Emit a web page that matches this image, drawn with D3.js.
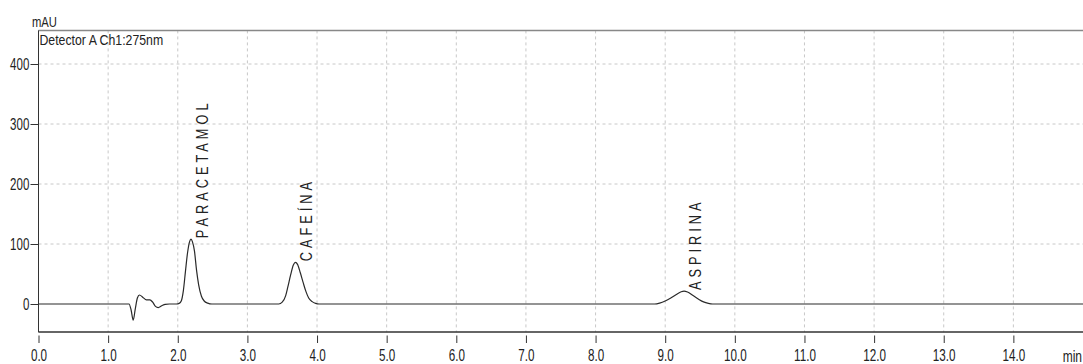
<!DOCTYPE html>
<html>
<head>
<meta charset="utf-8">
<script src="https://cdn.jsdelivr.net/npm/d3@7"></script>
<style>
  body { margin: 0; background: #fff; }
  svg text { font-family: "Liberation Sans", Arial, sans-serif; fill: #222; }
</style>
</head>
<body>
<svg id="chrom" width="1083" height="364"></svg>
<script>
// retention time (min) and detector signal (mAU)
var times = [0, 1.30, 1.33, 1.36, 1.39, 1.42, 1.45, 1.50, 1.55, 1.60, 1.64, 1.68, 1.72, 1.77, 1.82, 1.88,
  1.98, 2.02, 2.05, 2.08, 2.11, 2.14, 2.17, 2.19, 2.21, 2.24, 2.27, 2.30, 2.34, 2.38, 2.43, 2.49,
  3.45, 3.50, 3.55, 3.58, 3.62, 3.66, 3.69, 3.72, 3.76, 3.80, 3.84, 3.88, 3.93, 3.98, 4.03,
  8.85, 8.92, 9.00, 9.08, 9.16, 9.23, 9.27, 9.32, 9.40, 9.48, 9.55, 9.62, 9.68, 15];
var signal = [0, 0, -10, -27, -8, 10, 15, 11, 7, 7, 3, -4, -6, -3, -0.5, 0,
  0, 1, 5, 22, 54, 85, 104, 108, 104, 88, 56, 32, 13, 5, 1.5, 0,
  0, 3, 14, 28, 48, 65, 69.5, 66, 52, 36, 21, 10, 4, 1, 0,
  0, 1.5, 5, 10, 16, 20.5, 21.5, 20, 14, 8, 3.5, 1, 0, 0];

var peakNames = ["PARACETAMOL", "CAFEÍNA", "ASPIRINA"];
var peakTimes = [2.185, 3.69, 9.27];
var peakHeights = [108, 69.5, 21.5];

var xMajor = [0, 1, 2, 3, 4, 5, 6, 7, 8, 9, 10, 11, 12, 13, 14];
var yMajor = [0, 100, 200, 300, 400];

var svg = d3.select("#chrom")

var x = d3.scaleLinear().domain([0, 15]).range([38.5, 1083])
var y = d3.scaleLinear().domain([-47, 456]).range([332.2, 30.4])

var xMinor = d3.range(0, 15.01, 0.2).map(function(d){ return +d.toFixed(1) })
var yMinor = d3.range(-40, 456, 20)

// plain text squeezed sideways, the instrument font is a narrow one
function label(px, py, txt, size, sx, anchor) {
  svg.append("g").attr("transform", "translate(" + px + "," + py + ")")
    .append("text")
      .attr("transform", "scale(" + sx + ",1)")
      .attr("text-anchor", anchor)
      .style("font-size", size + "px")
      .text(txt)
}

// dashed grid
svg.selectAll("vgrid")
  .data(xMajor.slice(1))
  .enter()
  .append("line")
    .attr("x1", function(d){ return x(d) })
    .attr("x2", function(d){ return x(d) })
    .attr("y1", y.range()[1])
    .attr("y2", y.range()[0])
    .style("stroke", "#c8c8c8")
    .style("stroke-dasharray", "3,3")

svg.selectAll("hgrid")
  .data(yMajor.slice(1))
  .enter()
  .append("line")
    .attr("x1", x(0))
    .attr("x2", 1083)
    .attr("y1", function(d){ return y(d) })
    .attr("y2", function(d){ return y(d) })
    .style("stroke", "#c8c8c8")
    .style("stroke-dasharray", "3,3")

// frame top / bottom
svg.append("line").attr("x1", x(0)).attr("x2", 1083).attr("y1", 30.5).attr("y2", 30.5)
  .style("stroke", "#888").style("stroke-width", 1.5)
svg.append("line").attr("x1", x(0)).attr("x2", 1083).attr("y1", 332).attr("y2", 332)
  .style("stroke", "#333").style("stroke-width", 1.3)

// y axis
var yAxis = svg.append("g").attr("transform", "translate(" + x(0) + ",0)")
yAxis.call(d3.axisLeft(y).tickValues(yMinor).tickSize(4).tickFormat(""))
yAxis.call(d3.axisLeft(y).tickValues(yMajor).tickSize(8).tickFormat(d3.format("d")))
yAxis.selectAll(".domain").attr("d", "M0," + y.range()[1] + "V" + y.range()[0]).style("stroke", "#333")
yAxis.selectAll("line").style("stroke", "#333")
yAxis.selectAll("text")
  .attr("x", -9.2 / 0.72)
  .attr("dy", "0.36em")
  .attr("transform", "scale(0.72,1)")
  .style("font-size", "16px")

// x axis
var xAxis = svg.append("g").attr("transform", "translate(0,335.5)")
xAxis.call(d3.axisBottom(x).tickValues(xMinor.filter(function(d){ return d < 14.9 })).tickSize(3.5).tickFormat(""))
xAxis.call(d3.axisBottom(x).tickValues(xMajor).tickSize(7.5).tickFormat(d3.format(".1f")))
xAxis.selectAll(".domain").remove()
xAxis.selectAll("line").style("stroke", "#333")
xAxis.selectAll("text")
  .attr("y", 26)
  .attr("dy", 0)
  .attr("transform", "scale(0.73,1)")
  .style("font-size", "16px")

label(1082, 362, "min", 16, 0.75, "end")
label(32, 26.5, "mAU", 15, 0.75, "start")
label(39.5, 44.5, "Detector A Ch1:275nm", 15, 0.82, "start")

// chromatogram trace
var trace = times.map(function(t, i){ return [t, signal[i]] })
svg.append("path")
  .datum(trace)
  .attr("d", d3.line()
    .x(function(d){ return x(d[0]) })
    .y(function(d){ return y(d[1]) })
    .curve(d3.curveMonotoneX))
  .style("fill", "none")
  .style("stroke", "#2a2a2a")
  .style("stroke-width", 1.2)

// peak names, rotated
svg.selectAll("peaklabels")
  .data(peakNames)
  .enter()
  .append("text")
    .attr("transform", function(d, i){
      return "translate(" + (x(peakTimes[i]) + 17) + "," + (y(peakHeights[i]) - 1) + ") rotate(-90) scale(0.8,1)" })
    .style("font-size", "16px")
    .style("letter-spacing", "5px")
    .text(function(d){ return d })
</script>
</body>
</html>
